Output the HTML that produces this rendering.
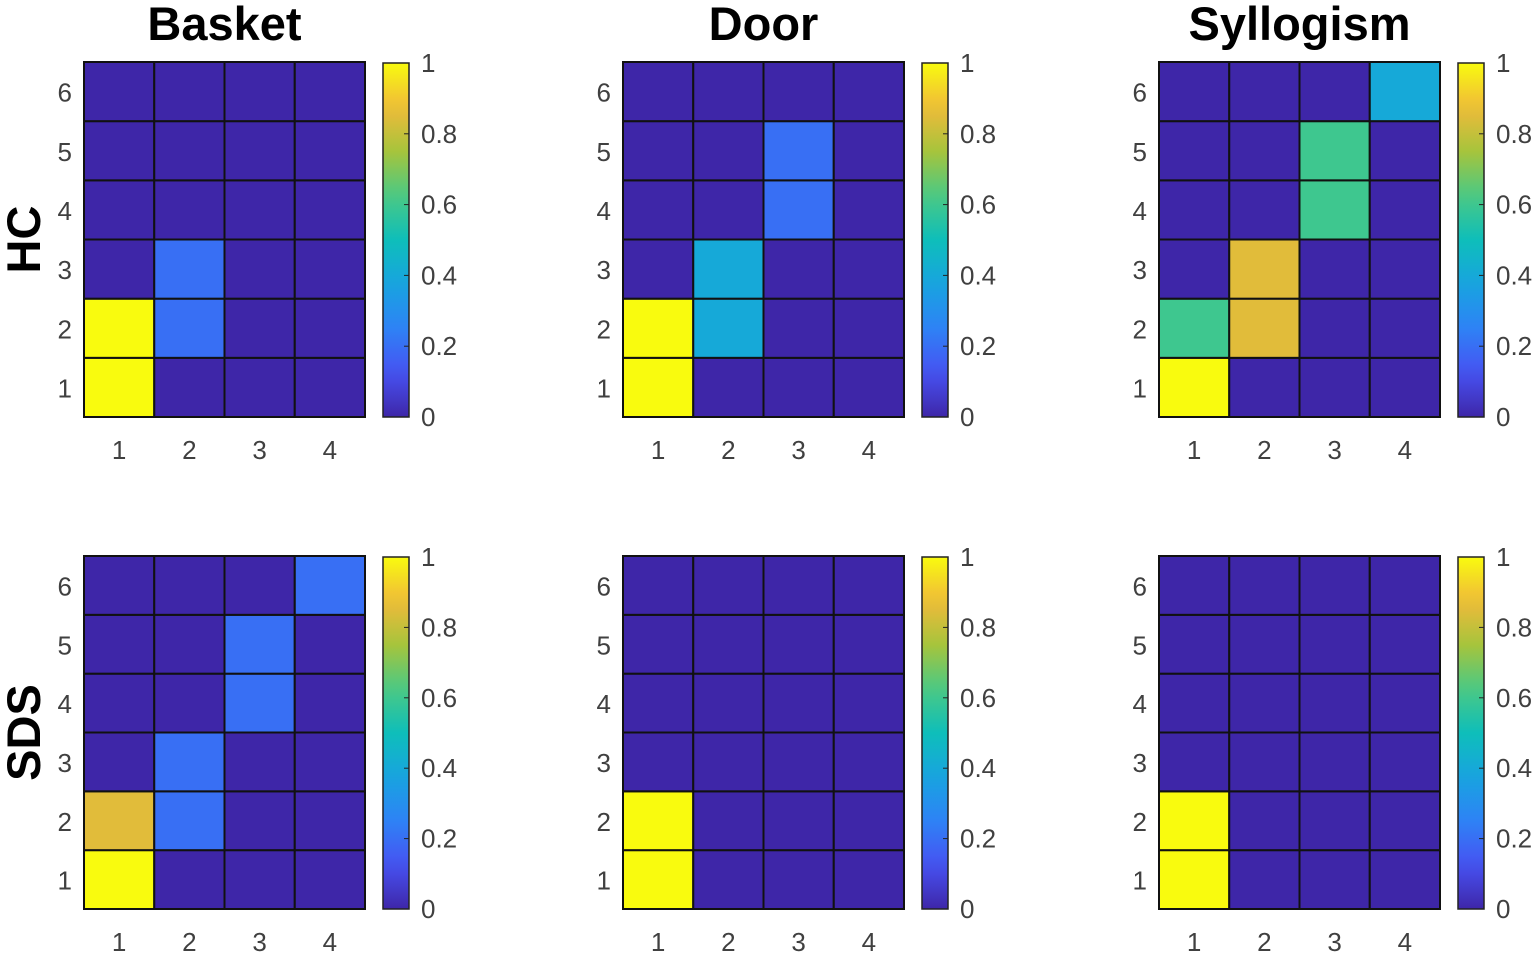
<!DOCTYPE html>
<html><head><meta charset="utf-8"><style>
html,body{margin:0;padding:0;background:#fff;width:1535px;height:956px;overflow:hidden}
svg{display:block;font-family:"Liberation Sans",sans-serif}
</style></head><body>
<svg id="c" width="1535" height="956"></svg>
<script>
const titles=["Basket","Door","Syllogism"];
const rowLabels=["HC","SDS"];
const xTicks=["1","2","3","4"];
const yTicks=["1","2","3","4","5","6"];
const cbTicks=[0,0.2,0.4,0.6,0.8,1];
// values[row][col] with row index = y (1..6 from bottom), col = x (1..4)
const basketHC=[[1,0,0,0],[1,0.2,0,0],[0,0.2,0,0],[0,0,0,0],[0,0,0,0],[0,0,0,0]];
const doorHC=[[1,0,0,0],[1,0.4,0,0],[0,0.4,0,0],[0,0,0.2,0],[0,0,0.2,0],[0,0,0,0]];
const syllHC=[[1,0,0,0],[0.6,0.85,0,0],[0,0.85,0,0],[0,0,0.6,0],[0,0,0.6,0],[0,0,0,0.4]];
const basketSDS=[[1,0,0,0],[0.85,0.2,0,0],[0,0.2,0,0],[0,0,0.2,0],[0,0,0.2,0],[0,0,0,0.2]];
const doorSDS=[[1,0,0,0],[1,0,0,0],[0,0,0,0],[0,0,0,0],[0,0,0,0],[0,0,0,0]];
const syllSDS=[[1,0,0,0],[1,0,0,0],[0,0,0,0],[0,0,0,0],[0,0,0,0],[0,0,0,0]];
const panels=[[basketHC,doorHC,syllHC],[basketSDS,doorSDS,syllSDS]];

const stops=[[0,[62,38,168]],[0.125,[71,82,242]],[0.25,[46,130,245]],[0.375,[24,164,224]],[0.5,[14,190,186]],[0.625,[74,201,132]],[0.75,[166,196,60]],[0.875,[240,186,58]],[1,[249,251,14]]];
function cmap(v){v=Math.max(0,Math.min(1,v));for(let i=1;i<stops.length;i++){if(v<=stops[i][0]){const a=stops[i-1],b=stops[i],t=(v-a[0])/(b[0]-a[0]);const c=a[1].map((x,k)=>Math.round(x+(b[1][k]-x)*t));return `rgb(${c.join(',')})`;}}return 'rgb(249,251,14)';}

const NS="http://www.w3.org/2000/svg";
const svg=document.getElementById('c');
function mk(tag,attrs,parent){const e=document.createElementNS(NS,tag);for(const k in attrs)e.setAttribute(k,attrs[k]);(parent||svg).appendChild(e);return e;}
const defs=mk('defs',{});
const grad=mk('linearGradient',{id:'parula',x1:0,y1:1,x2:0,y2:0},defs);
for(let i=0;i<=20;i++){mk('stop',{offset:i/20,'stop-color':cmap(i/20)},grad);}

const colX=[84,623,1159];
const rowY=[[62,417],[556,909]];
const W=281;
for(let r=0;r<2;r++){
  for(let p=0;p<3;p++){
    const g=mk('g',{});
    
    
    const x0=colX[p],y0=rowY[r][0],y1=rowY[r][1];
    const nC=xTicks.length,nR=yTicks.length;
    const cw=W/nC,ch=(y1-y0)/nR;
    const xs=i=>x0+i*cw, ys=j=>y1-(j+1)*ch;
    const data=panels[r][p];
    for(let j=0;j<nR;j++)for(let i=0;i<nC;i++){
      const cell=mk('rect',{x:xs(i),y:ys(j),width:cw,height:ch,fill:cmap(data[j][i]),stroke:'#111','stroke-width':2},g);
      
      
    }
    for(let i=0;i<nC;i++){const t=mk('text',{x:xs(i)+cw/2,y:y1+42,'text-anchor':'middle','font-size':26,fill:'#404040'},g);t.textContent=xTicks[i];
      }
    for(let j=0;j<nR;j++){const t=mk('text',{x:x0-12,y:ys(j)+ch/2+10,'text-anchor':'end','font-size':26,fill:'#404040'},g);t.textContent=yTicks[j];
      }
    const cx=x0+W+18,cy0=y0+1,cy1=y1;
    const cb=mk('rect',{x:cx,y:cy0,width:26,height:cy1-cy0,fill:'url(#parula)',stroke:'#222','stroke-width':1.5},g);
    
    const cs=v=>cy1-v*(cy1-cy0);
    cbTicks.forEach(v=>{
      mk('line',{x1:cx+26,x2:cx+21,y1:cs(v),y2:cs(v),stroke:'#222','stroke-width':1},g);
      const t=mk('text',{x:cx+38,y:cs(v)+9,'font-size':26,fill:'#404040'},g);t.textContent=String(v);
      
    });
    if(r===0){const t=mk('text',{x:x0+W/2,y:40,'text-anchor':'middle','font-size':47,'font-weight':'bold',fill:'#000'},g);t.textContent=titles[p];
      }
    if(p===0){const cyM=(y0+y1)/2;const t=mk('text',{x:0,y:0,transform:`translate(40,${cyM}) rotate(-90)`,'text-anchor':'middle','font-size':47,'font-weight':'bold',fill:'#000'},g);t.textContent=rowLabels[r];
      }
  }
}
</script>
</body></html>
